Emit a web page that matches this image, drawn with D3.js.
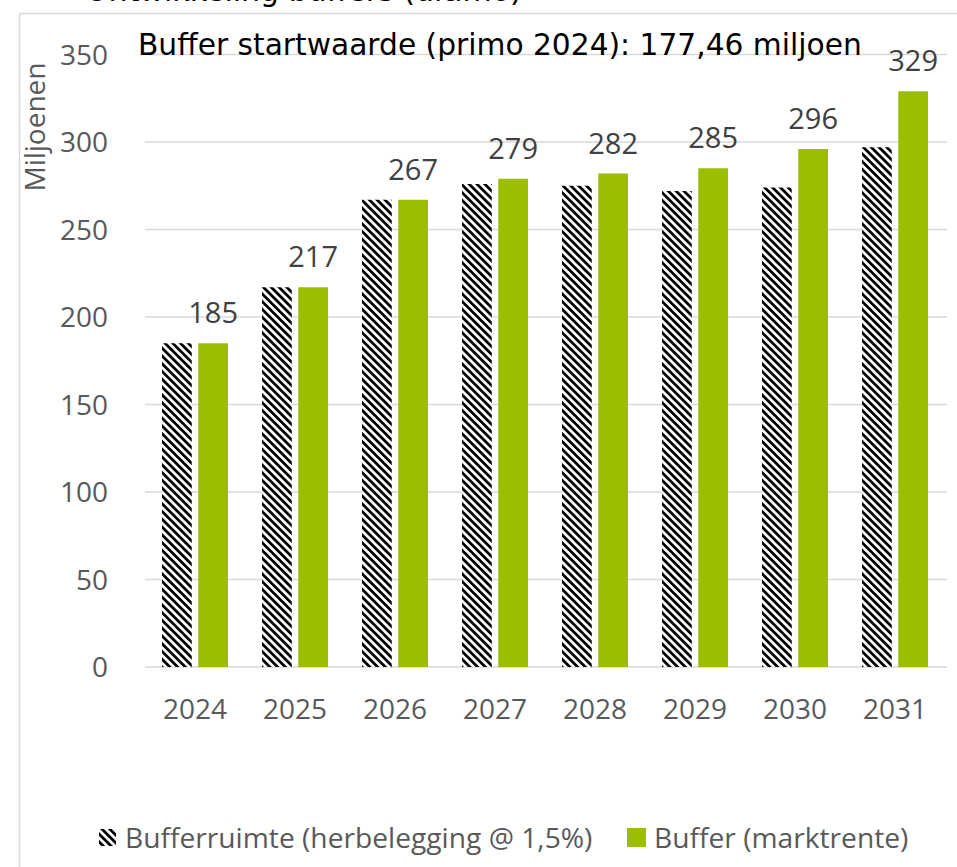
<!DOCTYPE html>
<html>
<head>
<meta charset="utf-8">
<script src="https://cdn.jsdelivr.net/npm/d3@7"></script>
<style>
  html, body { margin: 0; padding: 0; background: #fff; }
  svg { display: block; }
</style>
</head>
<body>
<div id="chart"></div>
<script>
var years = ["2024", "2025", "2026", "2027", "2028", "2029", "2030", "2031"];
var bufferruimte = [185, 217, 267, 276, 275, 272, 274, 297];
var bufferMarkt = [185, 217, 267, 279, 282, 285, 296, 329];
var yTicks = [0, 50, 100, 150, 200, 250, 300, 350];
var seriesNames = ["Bufferruimte (herbelegging @ 1,5%)", "Buffer (marktrente)"];

var width = 957, height = 867;
var green = "#9bbf00";
var labelFont = "'Open Sans', 'Noto Sans', sans-serif";
var titleFont = "'DejaVu Sans', Verdana, sans-serif";

var svg = d3.select("#chart").append("svg")
    .attr("width", width)
    .attr("height", height);

// diagonal hatch
var defs = svg.append("defs");
defs.append("pattern")
    .attr("id", "hatch")
    .attr("patternUnits", "userSpaceOnUse")
    .attr("width", 5.5)
    .attr("height", 5.5)
    .attr("patternTransform", "rotate(-45)")
  .call(function(p) {
    p.append("rect").attr("width", 5.5).attr("height", 5.5).attr("fill", "#fff");
    p.append("rect").attr("width", 2.8).attr("height", 5.5).attr("fill", "#000");
  });

// chart frame (partly outside the window)
svg.append("rect")
    .attr("x", 19.5).attr("y", 13.5)
    .attr("width", 1000).attr("height", 1000)
    .attr("fill", "none")
    .attr("stroke", "#d9d9d9")
    .attr("stroke-width", 1.5);

// chart title, cut off at the top like in the original
svg.append("text")
    .attr("x", 85).attr("y", 1)
    .attr("font-family", titleFont)
    .attr("font-size", 30)
    .attr("fill", "#000")
    .text("Ontwikkeling buffers (ultimo)");

var x0 = d3.scaleBand()
    .domain(years)
    .range([145, 945])
    .paddingInner(0.34)
    .paddingOuter(0.17);

var x1 = d3.scaleBand()
    .domain([0, 1])
    .range([0, x0.bandwidth()])
    .paddingInner(0.18);

var y = d3.scaleLinear()
    .domain([0, 350])
    .range([667, 54.5]);

// gridlines
svg.append("g")
  .selectAll("line")
  .data(yTicks)
  .enter().append("line")
    .attr("x1", 145).attr("x2", 947)
    .attr("y1", function(d) { return y(d); })
    .attr("y2", function(d) { return y(d); })
    .attr("stroke", "#d9d9d9")
    .attr("stroke-width", 1.5);

// y tick labels
svg.append("g")
  .selectAll("text")
  .data(yTicks)
  .enter().append("text")
    .attr("x", 108)
    .attr("y", function(d) { return y(d); })
    .attr("dy", "0.36em")
    .attr("text-anchor", "end")
    .attr("font-family", labelFont)
    .attr("font-size", 28)
    .attr("fill", "#595959")
    .text(function(d) { return d; });

// y axis title
svg.append("text")
    .attr("transform", "translate(45,127)rotate(-90)")
    .attr("text-anchor", "middle")
    .attr("font-family", labelFont)
    .attr("font-size", 28)
    .attr("fill", "#595959")
    .text("Miljoenen");

// bars
var groups = svg.append("g")
  .selectAll("g")
  .data(years)
  .enter().append("g")
    .attr("transform", function(d) { return "translate(" + x0(d) + ",0)"; });

groups.append("rect")
    .attr("x", x1(0))
    .attr("width", x1.bandwidth())
    .attr("y", function(d, i) { return y(bufferruimte[i]); })
    .attr("height", function(d, i) { return y(0) - y(bufferruimte[i]); })
    .attr("fill", "url(#hatch)");

groups.append("rect")
    .attr("x", x1(1))
    .attr("width", x1.bandwidth())
    .attr("y", function(d, i) { return y(bufferMarkt[i]); })
    .attr("height", function(d, i) { return y(0) - y(bufferMarkt[i]); })
    .attr("fill", green);

// data labels on the green bars
groups.append("text")
    .attr("x", x1(1) + x1.bandwidth() / 2)
    .attr("y", function(d, i) { return y(bufferMarkt[i]) - 20; })
    .attr("text-anchor", "middle")
    .attr("font-family", labelFont)
    .attr("font-size", 29)
    .attr("fill", "#404040")
    .text(function(d, i) { return bufferMarkt[i]; });

// x tick labels
groups.append("text")
    .attr("x", x0.bandwidth() / 2)
    .attr("y", 719)
    .attr("text-anchor", "middle")
    .attr("font-family", labelFont)
    .attr("font-size", 28)
    .attr("fill", "#595959")
    .text(function(d) { return d; });

// annotation
svg.append("text")
    .attr("x", 138).attr("y", 55)
    .attr("font-family", titleFont)
    .attr("font-size", 29.7)
    .attr("fill", "#000")
    .text("Buffer startwaarde (primo 2024): 177,46 miljoen");

// legend
var legend = svg.append("g").attr("transform", "translate(0,838)");
legend.append("rect")
    .attr("x", 99).attr("y", -9).attr("width", 17).attr("height", 17)
    .attr("fill", "url(#hatch)");
legend.append("text")
    .attr("x", 125).attr("y", 0).attr("dy", "0.36em")
    .attr("font-family", labelFont).attr("font-size", 28.2).attr("fill", "#595959")
    .text(seriesNames[0]);
legend.append("rect")
    .attr("x", 627).attr("y", -10).attr("width", 19).attr("height", 19)
    .attr("fill", green);
legend.append("text")
    .attr("x", 654).attr("y", 0).attr("dy", "0.36em")
    .attr("font-family", labelFont).attr("font-size", 28.2).attr("fill", "#595959")
    .text(seriesNames[1]);
</script>
</body>
</html>
